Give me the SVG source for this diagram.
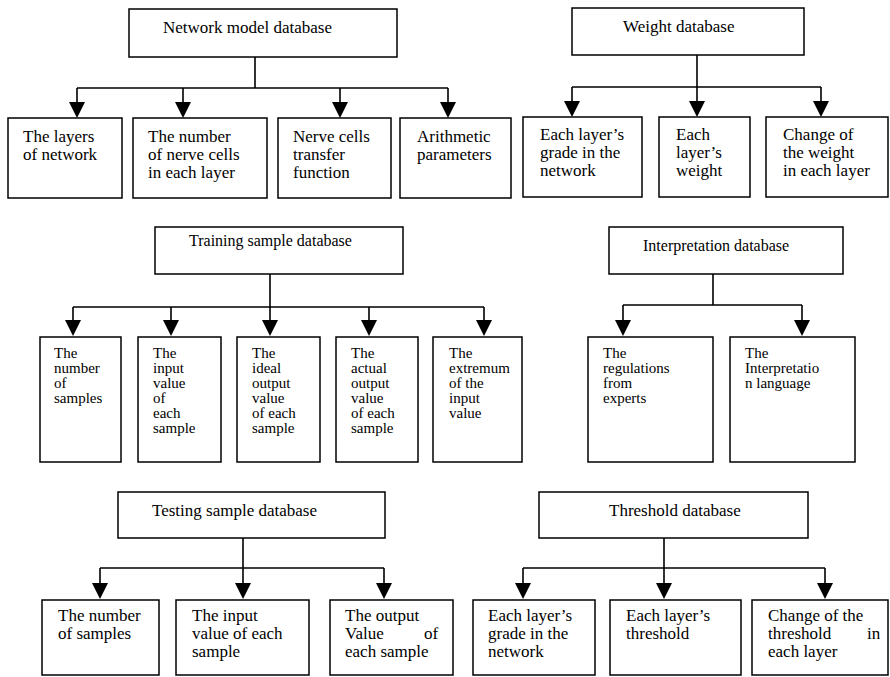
<svg xmlns="http://www.w3.org/2000/svg" width="890" height="677" viewBox="0 0 890 677">
<defs>
<style>
rect{fill:#fff;stroke:#000;stroke-width:1.5}
text{font-family:"Liberation Serif","Times New Roman",serif;fill:#000}
.t17{font-size:17px}
.t15{font-size:15px}
.t16{font-size:16px}
.ln{fill:none;stroke:#000;stroke-width:1.6}
.ah{fill:#000;stroke:none}
</style>
</defs>
<rect x="0" y="0" width="890" height="677" style="fill:#fff;stroke:none"/>

<g id="connectors">
<path class="ln" d="M255,57 V88 M77,88 H448 M77,88 V104 M183,88 V104 M340,88 V104 M448,88 V104"/>
<path class="ln" d="M697,55 V87 M572,87 H821 M572,87 V103 M697,87 V103 M821,87 V103"/>
<path class="ln" d="M270,274 V307 M73,307 H484 M73,307 V322 M171,307 V322 M270,307 V322 M369,307 V322 M484,307 V322"/>
<path class="ln" d="M713,274 V305 M623,305 H802 M623,305 V322 M802,305 V322"/>
<path class="ln" d="M243,538 V568 M100,568 H384 M100,568 V585 M243,568 V585 M384,568 V585"/>
<path class="ln" d="M664,538 V568 M523,568 H825 M523,568 V585 M664,568 V585 M825,568 V585"/>
<path class="ah" d="M69,102 H85 L77,118 Z M175,102 H191 L183,118 Z M332,102 H348 L340,118 Z M440,102 H456 L448,118 Z"/>
<path class="ah" d="M564,101 H580 L572,117 Z M689,101 H705 L697,117 Z M813,101 H829 L821,117 Z"/>
<path class="ah" d="M65,320 H81 L73,336 Z M163,320 H179 L171,336 Z M262,320 H278 L270,336 Z M361,320 H377 L369,336 Z M476,320 H492 L484,336 Z"/>
<path class="ah" d="M615,320 H631 L623,336 Z M794,320 H810 L802,336 Z"/>
<path class="ah" d="M92,583 H108 L100,599 Z M235,583 H251 L243,599 Z M376,583 H392 L384,599 Z"/>
<path class="ah" d="M515,583 H531 L523,599 Z M656,583 H672 L664,599 Z M817,583 H833 L825,599 Z"/>
</g>

<g id="network-model-database"><rect x="129" y="9" width="268" height="48"/><text class="t17" x="163" y="33">Network model database</text></g>
<g id="layers-of-network"><rect x="8" y="118" width="114" height="80"/><text class="t17"><tspan x="23" y="142">The layers</tspan><tspan x="23" y="160">of network</tspan></text></g>
<g id="number-of-nerve-cells"><rect x="133" y="118" width="134" height="80"/><text class="t17"><tspan x="148" y="142">The number</tspan><tspan x="148" y="160">of nerve cells</tspan><tspan x="148" y="178">in each layer</tspan></text></g>
<g id="transfer-function"><rect x="278" y="118" width="113" height="80"/><text class="t17"><tspan x="293" y="142">Nerve cells</tspan><tspan x="293" y="160">transfer</tspan><tspan x="293" y="178">function</tspan></text></g>
<g id="arithmetic-parameters"><rect x="400" y="118" width="111" height="80"/><text class="t17"><tspan x="417" y="142">Arithmetic</tspan><tspan x="417" y="160">parameters</tspan></text></g>

<g id="weight-database"><rect x="572" y="8" width="232" height="47"/><text class="t17" x="623" y="32">Weight database</text></g>
<g id="weight-grade"><rect x="523" y="117" width="119" height="80"/><text class="t17"><tspan x="540" y="140">Each layer’s</tspan><tspan x="540" y="158">grade in the</tspan><tspan x="540" y="176">network</tspan></text></g>
<g id="layer-weight"><rect x="659" y="117" width="91" height="80"/><text class="t17"><tspan x="676" y="140">Each</tspan><tspan x="676" y="158">layer’s</tspan><tspan x="676" y="176">weight</tspan></text></g>
<g id="weight-change"><rect x="766" y="117" width="122" height="80"/><text class="t17"><tspan x="783" y="140">Change of</tspan><tspan x="783" y="158">the weight</tspan><tspan x="783" y="176">in each layer</tspan></text></g>

<g id="training-sample-database"><rect x="155" y="227" width="248" height="47"/><text class="t16" x="189" y="246">Training sample database</text></g>
<g id="training-number"><rect x="40" y="337" width="81" height="125"/><text class="t15"><tspan x="54" y="358">The</tspan><tspan x="54" y="373">number</tspan><tspan x="54" y="388">of</tspan><tspan x="54" y="403">samples</tspan></text></g>
<g id="training-input"><rect x="138" y="337" width="83" height="125"/><text class="t15"><tspan x="153" y="358">The</tspan><tspan x="153" y="373">input</tspan><tspan x="153" y="388">value</tspan><tspan x="153" y="403">of</tspan><tspan x="153" y="418">each</tspan><tspan x="153" y="433">sample</tspan></text></g>
<g id="training-ideal"><rect x="237" y="337" width="83" height="125"/><text class="t15"><tspan x="252" y="358">The</tspan><tspan x="252" y="373">ideal</tspan><tspan x="252" y="388">output</tspan><tspan x="252" y="403">value</tspan><tspan x="252" y="418">of each</tspan><tspan x="252" y="433">sample</tspan></text></g>
<g id="training-actual"><rect x="336" y="337" width="82" height="125"/><text class="t15"><tspan x="351" y="358">The</tspan><tspan x="351" y="373">actual</tspan><tspan x="351" y="388">output</tspan><tspan x="351" y="403">value</tspan><tspan x="351" y="418">of each</tspan><tspan x="351" y="433">sample</tspan></text></g>
<g id="training-extremum"><rect x="433" y="337" width="89" height="125"/><text class="t15"><tspan x="449" y="358">The</tspan><tspan x="449" y="373">extremum</tspan><tspan x="449" y="388">of the</tspan><tspan x="449" y="403">input</tspan><tspan x="449" y="418">value</tspan></text></g>

<g id="interpretation-database"><rect x="609" y="227" width="234" height="47"/><text class="t16" x="643" y="251">Interpretation database</text></g>
<g id="regulations"><rect x="588" y="337" width="125" height="125"/><text class="t15"><tspan x="603" y="358">The</tspan><tspan x="603" y="373">regulations</tspan><tspan x="603" y="388">from</tspan><tspan x="603" y="403">experts</tspan></text></g>
<g id="interpretation-language"><rect x="730" y="337" width="125" height="125"/><text class="t15"><tspan x="745" y="358">The</tspan><tspan x="745" y="373">Interpretatio</tspan><tspan x="745" y="388">n language</tspan></text></g>

<g id="testing-sample-database"><rect x="118" y="492" width="267" height="46"/><text class="t17" x="152" y="516">Testing sample database</text></g>
<g id="testing-number"><rect x="42" y="600" width="117" height="75"/><text class="t17"><tspan x="58" y="621">The number</tspan><tspan x="58" y="639">of samples</tspan></text></g>
<g id="testing-input"><rect x="176" y="600" width="133" height="75"/><text class="t17"><tspan x="192" y="621">The input</tspan><tspan x="192" y="639">value of each</tspan><tspan x="192" y="657">sample</tspan></text></g>
<g id="testing-output"><rect x="330" y="600" width="123" height="75"/><text class="t17"><tspan x="345" y="621">The output</tspan><tspan x="345" y="639">Value </tspan><tspan x="424" y="639">of</tspan><tspan x="345" y="657">each sample</tspan></text></g>

<g id="threshold-database"><rect x="539" y="492" width="269" height="46"/><text class="t17" x="609" y="516">Threshold database</text></g>
<g id="threshold-grade"><rect x="473" y="600" width="122" height="75"/><text class="t17"><tspan x="488" y="621">Each layer’s</tspan><tspan x="488" y="639">grade in the</tspan><tspan x="488" y="657">network</tspan></text></g>
<g id="layer-threshold"><rect x="610" y="600" width="131" height="75"/><text class="t17"><tspan x="626" y="621">Each layer’s</tspan><tspan x="626" y="639">threshold</tspan></text></g>
<g id="threshold-change"><rect x="752" y="600" width="136" height="75"/><text class="t17"><tspan x="768" y="621">Change of the</tspan><tspan x="768" y="639">threshold </tspan><tspan x="867" y="639">in</tspan><tspan x="768" y="657">each layer</tspan></text></g>
</svg>
